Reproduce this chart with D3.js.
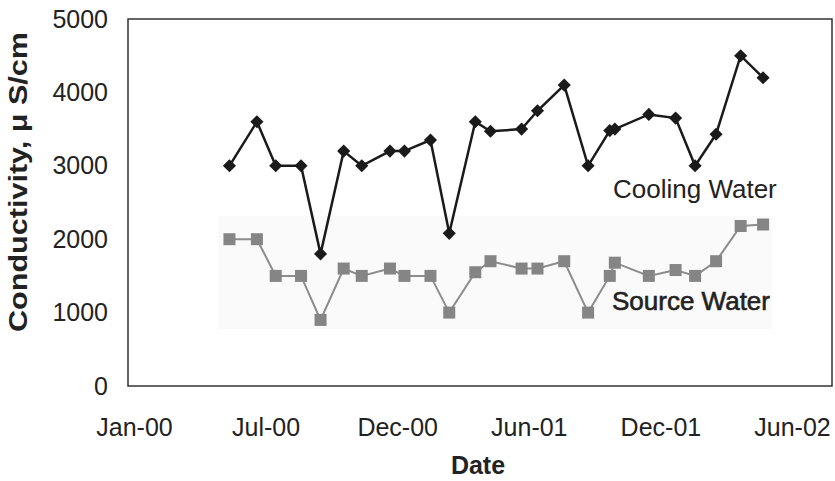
<!DOCTYPE html>
<html>
<head>
<meta charset="utf-8">
<script src="https://cdn.jsdelivr.net/npm/d3@7"></script>
<style>
  body { margin: 0; background: #fff; }
  text { font-family: "Liberation Sans", Arial, sans-serif; fill: #222; }
</style>
</head>
<body>
<div id="container"></div>
<script>
// sample dates (shared by both series)
const dates = ["2000-05-12","2000-06-19","2000-07-15","2000-08-19","2000-09-15","2000-10-17",
  "2000-11-11","2000-12-20","2001-01-09","2001-02-14","2001-03-12","2001-04-17","2001-05-08",
  "2001-06-20","2001-07-12","2001-08-18","2001-09-20","2001-10-20","2001-10-27","2001-12-13",
  "2002-01-19","2002-02-15","2002-03-16","2002-04-19","2002-05-20"];
const coolingWater = [3000,3600,3000,3000,1800,3200,3000,3200,3200,3350,2080,3600,3470,
  3500,3750,4100,3000,3480,3500,3700,3650,3000,3430,4500,4200];
const sourceWater = [2000,2000,1500,1500,900,1600,1500,1600,1500,1500,1000,1550,1700,
  1600,1600,1700,1000,1500,1680,1500,1580,1500,1700,2180,2200];
const xTickDates = ["2000-01-01","2000-07-01","2000-12-30","2001-06-30","2001-12-29","2002-06-29"];
const yTicks = [0,1000,2000,3000,4000,5000];

const parse = d3.timeParse("%Y-%m-%d");
const w = 835, h = 481;
const frame = {left: 128, right: 832, top: 19, bottom: 386};

const svg = d3.select("#container").append("svg").attr("width", w).attr("height", h);

const xScale = d3.scaleTime()
  .domain([parse(xTickDates[0]), parse(xTickDates[xTickDates.length-1])])
  .range([134, 792]);
const yScale = d3.scaleLinear().domain([0, 5000]).range([frame.bottom, frame.top]);

// faint scanned band behind the source water series
svg.append("rect")
  .attr("x", 218).attr("y", 216).attr("width", 554).attr("height", 113)
  .attr("fill", "#fafafa");

// plot frame
svg.append("rect")
  .attr("x", frame.left).attr("y", frame.top)
  .attr("width", frame.right-frame.left).attr("height", frame.bottom-frame.top)
  .attr("fill", "none").attr("stroke", "#333").attr("stroke-width", 1.5);

// axes
const xAxis = d3.axisBottom(xScale)
  .tickValues(xTickDates.map(parse))
  .tickFormat(d3.timeFormat("%b-%y"))
  .tickSize(0).tickPadding(32);
const xg = svg.append("g").attr("transform", `translate(0, ${frame.bottom})`).call(xAxis);
xg.select(".domain").remove();
xg.selectAll("text").style("font-size", "25px").attr("fill", "#222");

const yAxis = d3.axisLeft(yScale).tickValues(yTicks).tickFormat(d3.format("d"))
  .tickSize(0).tickPadding(20);
const yg = svg.append("g").attr("transform", `translate(${frame.left}, 0)`).call(yAxis);
yg.select(".domain").remove();
yg.selectAll("text").style("font-size", "25px").attr("fill", "#222");

const cool = dates.map((d, i) => ({date: parse(d), v: coolingWater[i]}));
const src = dates.map((d, i) => ({date: parse(d), v: sourceWater[i]}));

const line = d3.line().x(d => xScale(d.date)).y(d => yScale(d.v));

// source water
svg.append("path").datum(src)
  .attr("d", line).attr("fill", "none").attr("stroke", "#8c8c8c").attr("stroke-width", 2);
svg.selectAll(".sq").data(src).enter().append("rect")
  .attr("class", "sq")
  .attr("x", d => xScale(d.date)-6).attr("y", d => yScale(d.v)-6)
  .attr("width", 12).attr("height", 12)
  .attr("fill", "#858585");

// cooling water
svg.append("path").datum(cool)
  .attr("d", line).attr("fill", "none").attr("stroke", "#1a1a1a").attr("stroke-width", 2.5);
svg.selectAll(".dm").data(cool).enter().append("path")
  .attr("class", "dm")
  .attr("d", d3.symbol().type(d3.symbolDiamond2).size(110))
  .attr("transform", d => `translate(${xScale(d.date)}, ${yScale(d.v)})`)
  .attr("fill", "#1a1a1a");

// series labels
svg.append("text").attr("x", 613).attr("y", 198)
  .style("font-size", "26px").text("Cooling Water");
svg.append("text").attr("x", 612).attr("y", 310)
  .style("font-size", "26px").attr("stroke", "#222").attr("stroke-width", 0.6)
  .text("Source Water");

// axis titles
svg.append("text").attr("x", 478).attr("y", 474)
  .attr("text-anchor", "middle").style("font-size", "25px").style("font-weight", "bold")
  .text("Date");
svg.append("text")
  .attr("transform", "translate(27, 182) rotate(-90)")
  .attr("text-anchor", "middle").style("font-size", "25px").style("font-weight", "bold")
  .attr("textLength", 300).attr("lengthAdjust", "spacingAndGlyphs")
  .text("Conductivity, \u03bc S/cm");
</script>
</body>
</html>
